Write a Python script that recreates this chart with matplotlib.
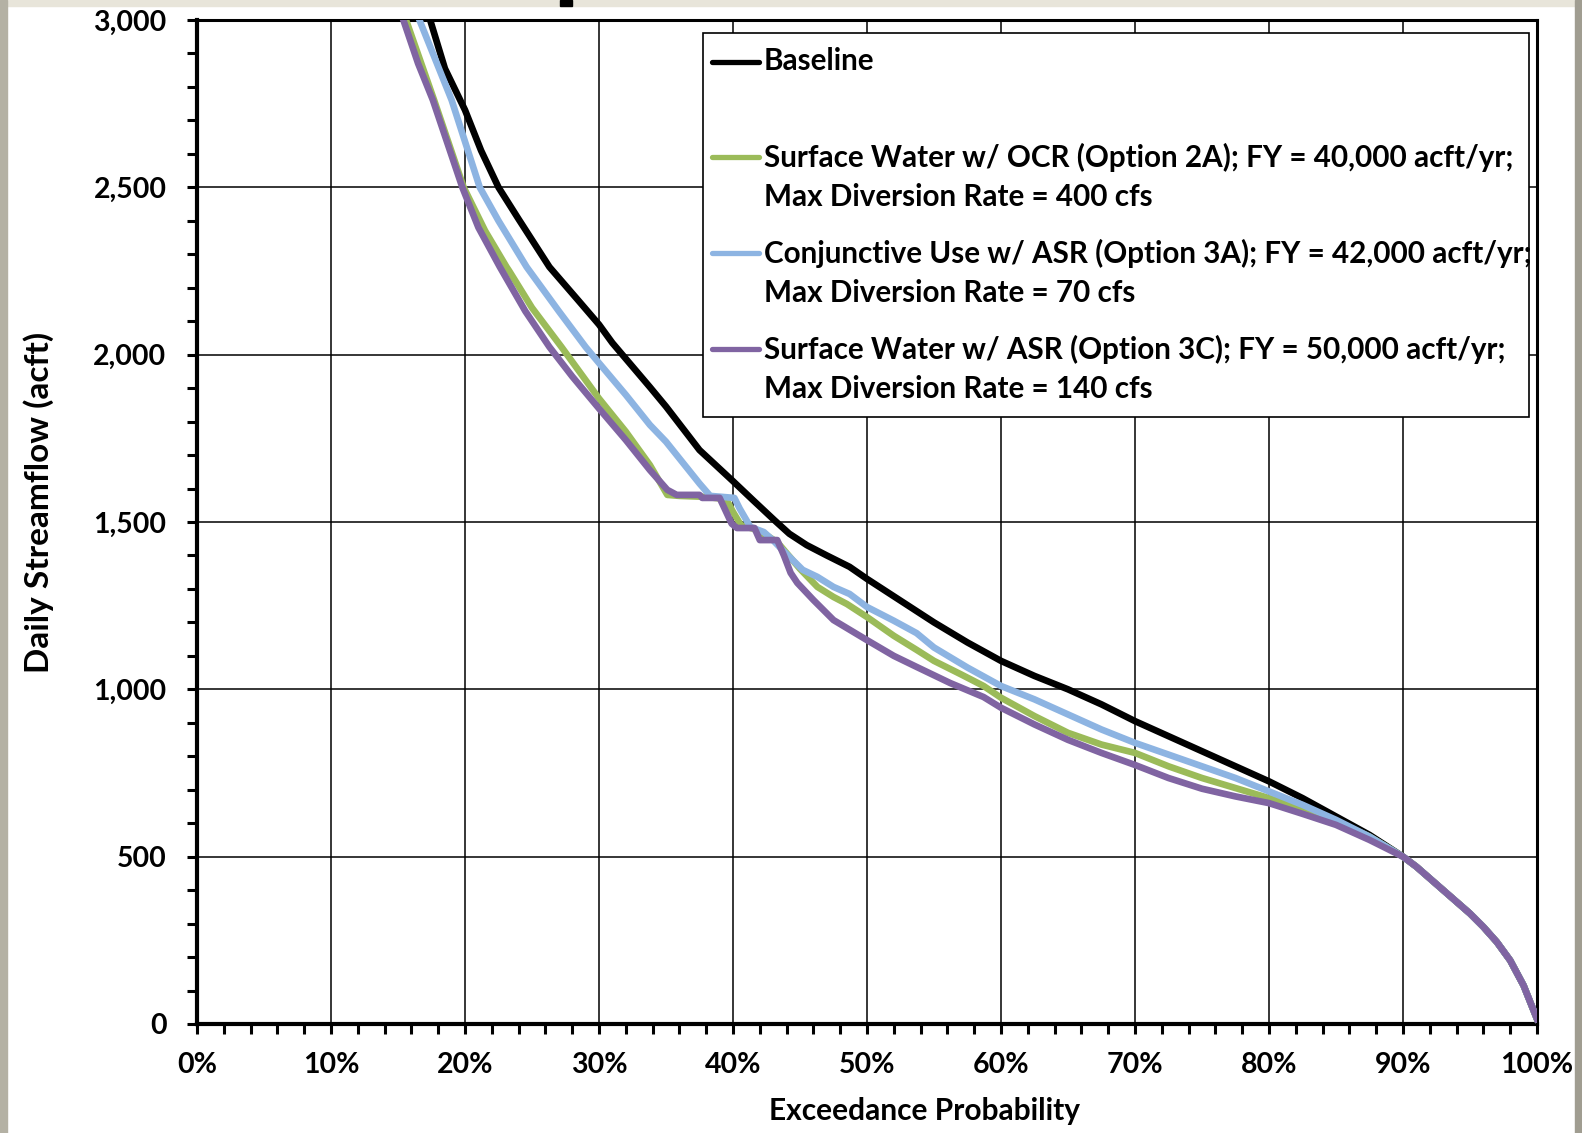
import matplotlib

matplotlib.use("Agg")

import matplotlib.pyplot as plt
import numpy as np
from matplotlib.lines import Line2D
from matplotlib.patches import Rectangle
from matplotlib.ticker import FuncFormatter, MultipleLocator

plt.rcParams["font.family"] = ["Lato", "DejaVu Sans"]
plt.rcParams["font.weight"] = "bold"

# exceedance probability (%) and daily streamflow (acft)
baseline_p = [17.4, 18.5, 20.0, 21.2, 22.5, 24.0, 26.3, 28.5, 30.0, 31.0, 33.8, 35.0,
              37.5, 40.0, 41.5, 43.1, 44.2, 45.5, 47.0, 48.7, 50.0, 52.5, 55.0, 57.5,
              60.0, 62.5, 65.0, 67.5, 70.0, 72.5, 75.0, 77.5, 80.0, 82.5, 85.0, 87.5, 90.0]
baseline_v = [3000, 2855, 2731, 2610, 2500, 2405, 2262, 2160, 2090, 2035, 1903, 1845,
              1715, 1622, 1565, 1505, 1465, 1431, 1400, 1366, 1330, 1265, 1200, 1140,
              1085, 1040, 1000, 955, 905, 860, 815, 770, 725, 675, 620, 565, 500]

ocr_2a_p = [15.6, 17.7, 19.9, 21.5, 23.1, 23.3, 25.0, 27.2, 30.0, 32.0, 33.8, 35.1,
            36.0, 38.0, 39.5, 40.0, 40.6, 41.5, 42.5, 43.3, 44.0, 45.0, 46.3, 47.5,
            48.5, 50.0, 52.0, 53.7, 55.0, 57.0, 58.7, 60.0, 62.5, 65.0, 67.5, 70.0,
            72.5, 75.0, 77.5, 80.0, 82.5, 85.0, 87.5, 90.0]
ocr_2a_v = [3000, 2760, 2500, 2370, 2262, 2250, 2140, 2023, 1869, 1770, 1670, 1581,
            1578, 1575, 1568, 1530, 1490, 1480, 1460, 1440, 1407, 1360, 1306, 1276,
            1255, 1216, 1160, 1118, 1085, 1045, 1010, 975, 920, 870, 835, 810,
            770, 735, 705, 675, 640, 605, 560, 500]

asr_3a_p = [16.6, 19.0, 21.1, 22.5, 24.6, 27.0, 29.0, 30.0, 32.0, 33.8, 35.0, 36.3,
            37.5, 38.3, 40.1, 40.5, 41.3, 42.3, 43.0, 43.7, 45.2, 46.3, 47.5, 48.7,
            50.0, 52.0, 53.7, 55.0, 57.5, 60.0, 62.5, 65.0, 67.5, 70.0, 72.5, 75.0,
            77.5, 80.0, 82.5, 85.0, 87.5, 90.0]
asr_3a_v = [3000, 2761, 2500, 2400, 2262, 2130, 2023, 1975, 1880, 1790, 1740, 1675,
            1615, 1578, 1572, 1540, 1485, 1470, 1445, 1416, 1357, 1336, 1306, 1285,
            1246, 1205, 1168, 1125, 1065, 1010, 970, 925, 880, 840, 805, 770,
            735, 695, 655, 610, 560, 500]

asr_3c_p = [15.4, 16.5, 17.6, 19.8, 21.0, 22.6, 24.5, 26.3, 28.0, 30.0, 32.0, 33.8,
            35.1, 35.8, 37.5, 37.7, 39.0, 39.9, 40.3, 41.6, 42.0, 43.3, 43.8, 44.3,
            44.8, 46.0, 47.5, 50.0, 52.0, 53.7, 56.2, 58.7, 60.0, 62.5, 65.0, 67.5,
            70.0, 72.5, 75.0, 77.5, 80.0, 82.5, 85.0, 87.5, 90.0]
asr_3c_v = [3000, 2870, 2761, 2500, 2380, 2262, 2130, 2023, 1935, 1839, 1745, 1655,
            1596, 1581, 1581, 1572, 1572, 1495, 1482, 1482, 1446, 1446, 1400, 1348,
            1318, 1267, 1207, 1147, 1100, 1067, 1019, 977, 945, 895, 849, 810,
            774, 735, 703, 680, 660, 628, 595, 550, 500]

# all scenarios share the same low-flow tail
tail_p = [91, 92, 93, 94, 95, 96, 97, 98, 99, 100]
tail_v = [470, 435, 400, 365, 330, 290, 245, 190, 115, 15]

series_names = [
    "Baseline",
    "Surface Water w/ OCR (Option 2A); FY = 40,000 acft/yr;\nMax Diversion Rate = 400 cfs",
    "Conjunctive Use w/ ASR (Option 3A); FY = 42,000 acft/yr;\nMax Diversion Rate = 70 cfs",
    "Surface Water w/ ASR (Option 3C); FY = 50,000 acft/yr;\nMax Diversion Rate = 140 cfs",
]
series_colors = ["#000000", "#9BBB59", "#8DB4E2", "#8064A2"]

W, H = 1582, 1133


def fig_xy(x, y):
    """Pixel position (from top-left) to figure fraction."""
    return x / W, 1 - y / H


fig = plt.figure(figsize=(W / 100, H / 100), dpi=100, facecolor="white")

# page edges around the pasted chart
fig.patches.append(Rectangle((0, 1 - 6 / H), 1, 6 / H, transform=fig.transFigure,
                             color="#E8E5DA", zorder=0))
fig.patches.append(Rectangle((0, 0), 7 / W, 1, transform=fig.transFigure,
                             color="#B4B1A4", zorder=0))
fig.patches.append(Rectangle((1575 / W, 0), 7 / W, 1, transform=fig.transFigure,
                             color="#A09D91", zorder=0))
fig.patches.append(Rectangle((560 / W, 1 - 6 / H), 12 / W, 6 / H, transform=fig.transFigure,
                             color="black", zorder=1))

ax = fig.add_axes([197 / W, 1 - 1024 / H, 1340 / W, 1004 / H])

all_p = [baseline_p, ocr_2a_p, asr_3a_p, asr_3c_p]
all_v = [baseline_v, ocr_2a_v, asr_3a_v, asr_3c_v]
for p, v, color in zip(all_p, all_v, series_colors):
    x = np.array(p + tail_p) / 100
    y = np.array(v + tail_v)
    ax.plot(x, y, color=color, linewidth=4.8, solid_joinstyle="round", zorder=3)

ax.set_xlim(0, 1)
ax.set_ylim(0, 3000)
ax.xaxis.set_major_locator(MultipleLocator(0.1))
ax.xaxis.set_minor_locator(MultipleLocator(0.02))
ax.yaxis.set_major_locator(MultipleLocator(500))
ax.yaxis.set_minor_locator(MultipleLocator(100))
ax.xaxis.set_major_formatter(FuncFormatter(lambda v, _: f"{v * 100:.0f}%"))
ax.yaxis.set_major_formatter(FuncFormatter(lambda v, _: f"{v:,.0f}"))

ax.tick_params(which="both", direction="out", length=7, width=2.2, color="black")
ax.tick_params(axis="x", which="major", labelsize=20.5, pad=13)
ax.tick_params(axis="y", which="major", labelsize=20.5, pad=15)
ax.grid(which="major", color="black", linewidth=1.1)
ax.set_axisbelow(True)

for side in ["left", "bottom"]:
    ax.spines[side].set_linewidth(3.0)
for side in ["top", "right"]:
    ax.spines[side].set_linewidth(2.2)

ax.set_xlabel("Exceedance Probability", fontsize=21.5, fontweight="bold")
ax.set_ylabel("Daily Streamflow (acft)", fontsize=24, fontweight="bold")
ax.xaxis.set_label_coords((925 - 197) / 1340, -(1111 - 1024) / 1004)
ax.xaxis.label.set_va("center")
ax.yaxis.set_label_coords((39 - 197) / 1340, (1024 - 502) / 1004)
ax.yaxis.label.set_va("center")

# legend drawn by hand so the swatch sits on the first text line, like the source
x0, y0 = fig_xy(703, 417)
x1, y1 = fig_xy(1529, 33)
fig.patches.append(Rectangle((x0, y0), x1 - x0, y1 - y0, transform=fig.transFigure,
                             facecolor="white", edgecolor="black", linewidth=1.2, zorder=5))
legend_rows = [61.5, 157.4, 253.3, 349.0]
line_gap = 40
for name, color, row in zip(series_names, series_colors, legend_rows):
    lx0, ly = fig_xy(712, row)
    lx1, _ = fig_xy(759, row)
    fig.add_artist(Line2D([lx0, lx1], [ly, ly], color=color, linewidth=3.8,
                          solid_capstyle="round", transform=fig.transFigure, zorder=6))
    for i, part in enumerate(name.split("\n")):
        tx, ty = fig_xy(764, row + i * line_gap)
        fig.text(tx, ty, part, fontsize=21.3, fontweight="bold", va="center", ha="left",
                 zorder=6)

fig.savefig("out.png", dpi=100)
